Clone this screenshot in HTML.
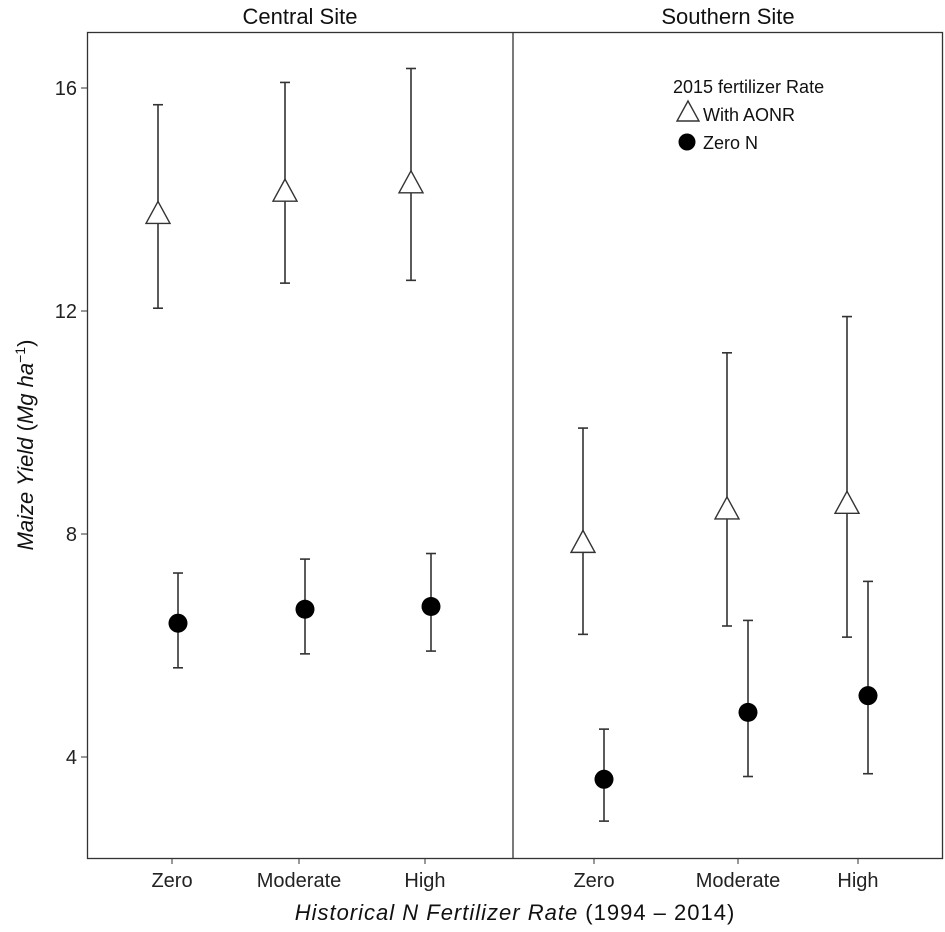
<!DOCTYPE html>
<html><head><meta charset="utf-8"><style>
html,body{margin:0;padding:0;background:#fff;}
svg{display:block;font-family:"Liberation Sans",Arial,sans-serif;}
</style></head><body>
<svg width="945" height="932" viewBox="0 0 945 932">
<g id="axes"></g><g id="marks"></g>
</svg>
<script>
const categories=["Zero","Moderate","High"];
const sites=["Central Site","Southern Site"];
const yTicks=[4,8,12,16];
const aonrMean=[13.75,14.15,14.3,7.85,8.45,8.55];
const aonrLow=[12.05,12.5,12.55,6.2,6.35,6.15];
const aonrHigh=[15.7,16.1,16.35,9.9,11.25,11.9];
const zeroMean=[6.4,6.65,6.7,3.6,4.8,5.1];
const zeroLow=[5.6,5.85,5.9,2.85,3.65,3.7];
const zeroHigh=[7.3,7.55,7.65,4.5,6.45,7.15];

const NS="http://www.w3.org/2000/svg";
const axes=document.getElementById('axes'),marks=document.getElementById('marks');
function mk(p,tag,a,txt){const e=document.createElementNS(NS,tag);for(const k in a)e.setAttribute(k,a[k]);if(txt!=null)e.textContent=txt;p.appendChild(e);return e;}
function y(v){return 757-(v-4)*55.75;}
const panels=[{x0:87,x1:513,cx:[172,299,425]},{x0:513,x1:943,cx:[594,738,858]}];
function xc(i){return panels[Math.floor(i/3)].cx[i%3];}

let fr=mk(axes,'rect',{x:87.5,y:32.5,width:855,height:826,fill:'none',stroke:'#333','stroke-width':1.3});

let dv=mk(axes,'line',{x1:513,x2:513,y1:32,y2:858,stroke:'#333','stroke-width':1.3});

sites.forEach((s,i)=>{const p=panels[i];
 const t=mk(axes,'text',{x:(p.x0+p.x1)/2,y:24,'text-anchor':'middle','font-size':22,fill:'#111'},s);
 
 categories.forEach((c,j)=>{
  mk(axes,'line',{x1:p.cx[j],x2:p.cx[j],y1:858,y2:864,stroke:'#333'});
  const l=mk(axes,'text',{x:p.cx[j],y:887,'text-anchor':'middle','font-size':20,fill:'#222'},c);
  
 });
});
yTicks.forEach(v=>{
 mk(axes,'line',{x1:81,x2:87,y1:y(v),y2:y(v),stroke:'#333'});
 const l=mk(axes,'text',{x:77,y:y(v)+7,'text-anchor':'end','font-size':20,fill:'#222'},v);
 
});
let yt=mk(axes,'text',{transform:'translate(33,445) rotate(-90)','text-anchor':'middle','font-size':22,fill:'#111'});
yt.innerHTML='<tspan font-style="italic">Maize Yield</tspan> (<tspan font-style="italic">Mg ha</tspan><tspan dy="-8" font-size="14">−1</tspan><tspan dy="8">)</tspan>';

let xt=mk(axes,'text',{x:515,y:920,'text-anchor':'middle','font-size':22,fill:'#111','letter-spacing':'1'});
xt.innerHTML='<tspan font-style="italic">Historical N Fertilizer Rate</tspan> (1994 – 2014)';


function errbar(x,lo,hi){
 mk(marks,'line',{x1:x,x2:x,y1:y(lo),y2:y(hi),stroke:'#333','stroke-width':1.6});
 mk(marks,'line',{x1:x-5,x2:x+5,y1:y(lo),y2:y(lo),stroke:'#333','stroke-width':1.6});
 mk(marks,'line',{x1:x-5,x2:x+5,y1:y(hi),y2:y(hi),stroke:'#333','stroke-width':1.6});
}
for(let i=0;i<6;i++){
 const xa=xc(i)-(i<3?14:11), xz=xc(i)+(i<3?6:10);
 errbar(xa,aonrLow[i],aonrHigh[i]);
 const cy=y(aonrMean[i]);
 const t=mk(marks,'polygon',{points:`${xa-12},${cy+10} ${xa+12},${cy+10} ${xa},${cy-12}`,fill:'#fff',stroke:'#333','stroke-width':1.4});
 
 errbar(xz,zeroLow[i],zeroHigh[i]);
 const c=mk(marks,'circle',{cx:xz,cy:y(zeroMean[i]),r:9.5,fill:'#000'});
 
}
const lg=mk(axes,'g',{});
mk(lg,'text',{x:673,y:93,'font-size':18,fill:'#111'},'2015 fertilizer Rate');
mk(lg,'polygon',{points:'677,121 699,121 688,101',fill:'#fff',stroke:'#333','stroke-width':1.4});
mk(lg,'text',{x:703,y:121,'font-size':18,fill:'#111'},'With AONR');
mk(lg,'circle',{cx:687,cy:142,r:8.5,fill:'#000'});
mk(lg,'text',{x:703,y:149,'font-size':18,fill:'#111'},'Zero N');
</script>
</body></html>
